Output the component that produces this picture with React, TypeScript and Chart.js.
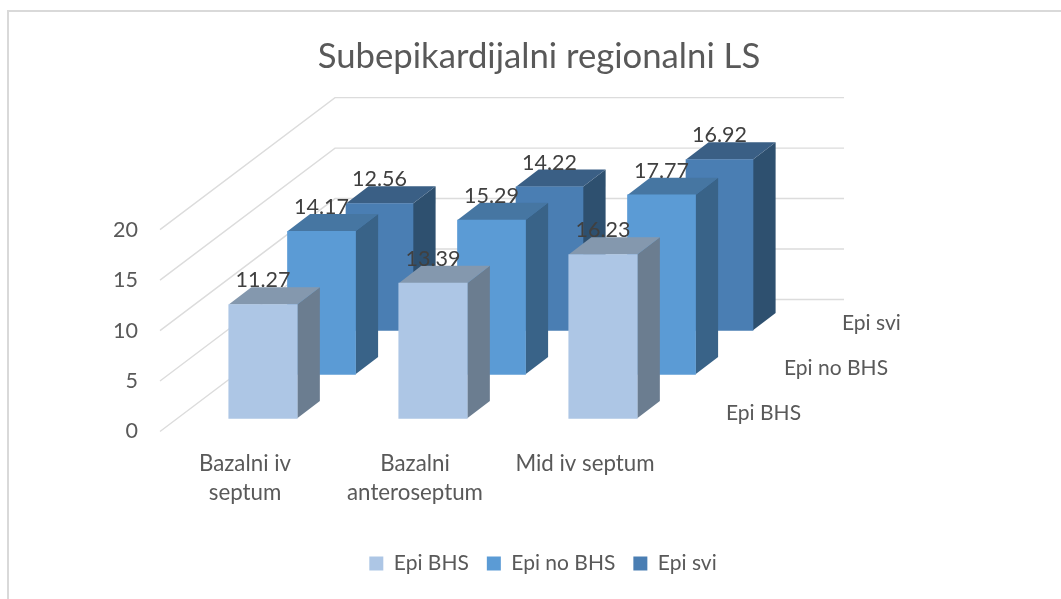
import React, { useEffect, useRef } from "react";
import { Chart, registerables } from "chart.js";

Chart.register(...registerables);

const categories = [["Bazalni iv", "septum"], ["Bazalni", "anteroseptum"], "Mid iv septum"];
const seriesNames = ["Epi BHS", "Epi no BHS", "Epi svi"];
const epiBhs = [11.27, 13.39, 16.23];
const epiNoBhs = [14.17, 15.29, 17.77];
const epiSvi = [12.56, 14.22, 16.92];
const yTicks = [0, 5, 10, 15, 20];

const FONT = "Lato, Carlito, Calibri, sans-serif";
const TEXT = "#595959";
const front = ["#adc6e5", "#5b9bd5", "#4a7eb3"];
const side = ["#6b7d90", "#396388", "#2e506f"];
const top = ["#8498ae", "#4676a2", "#3a5f85"];
const thickness = [68.5, 68, 67];

const offsets = [
  { dx: 18, dy: -13.2 },
  { dx: 76.5, dy: -57.2 },
  { dx: 134.5, dy: -101.2 },
];
const BAR_DX = 22.6;
const BAR_DY = -17.3;
const WALL_DX = 175;
const WALL_DY = -132;
const WALL_LEN = 509;

const poly = (ctx: CanvasRenderingContext2D, pts: number[][], fill: string) => {
  ctx.beginPath();
  pts.forEach((p, i) => (i ? ctx.lineTo(p[0], p[1]) : ctx.moveTo(p[0], p[1])));
  ctx.closePath();
  ctx.fillStyle = fill;
  ctx.fill();
};

const bars3d = {
  id: "bars3d",
  afterLayout(chart: any) {
    // legend sits slightly right of the title in the reference
    chart.legend.left += 4;
    chart.legend.right += 4;
  },
  beforeDatasetsDraw(chart: any) {
    const { ctx, scales } = chart;
    const x0 = scales.x.left;
    ctx.save();
    ctx.strokeStyle = "#dcdcdc";
    ctx.lineWidth = 1.4;
    yTicks.forEach((v) => {
      const y = scales.y.getPixelForValue(v);
      ctx.beginPath();
      ctx.moveTo(x0, y);
      ctx.lineTo(x0 + WALL_DX, y + WALL_DY);
      ctx.lineTo(x0 + WALL_DX + WALL_LEN, y + WALL_DY);
      ctx.stroke();
    });
    ctx.restore();
  },
  beforeDatasetDraw(chart: any, args: any) {
    const { ctx } = chart;
    const i = args.index;
    ctx.save();
    ctx.translate(offsets[i].dx, offsets[i].dy);
    args.meta.data.forEach((el: any) => {
      const r = el.x + el.width / 2;
      const l = el.x - el.width / 2;
      poly(ctx, [[r, el.y], [r + BAR_DX, el.y + BAR_DY], [r + BAR_DX, el.base + BAR_DY], [r, el.base]], side[i]);
      poly(ctx, [[l, el.y], [l + BAR_DX, el.y + BAR_DY], [r + BAR_DX, el.y + BAR_DY], [r, el.y]], top[i]);
    });
  },
  afterDatasetDraw(chart: any) {
    chart.ctx.restore();
  },
  afterDatasetsDraw(chart: any) {
    const { ctx, scales } = chart;
    ctx.save();
    ctx.textBaseline = "middle";
    ctx.font = `21.5px ${FONT}`;
    ctx.fillStyle = "#404040";
    ctx.textAlign = "center";
    chart.data.datasets.forEach((ds: any, i: number) => {
      chart.getDatasetMeta(i).data.forEach((el: any, j: number) => {
        ctx.fillText(ds.data[j].toFixed(2), el.x + offsets[i].dx, el.y + offsets[i].dy - 24);
      });
    });
    ctx.textAlign = "left";
    ctx.fillStyle = TEXT;
    ctx.font = `21px ${FONT}`;
    seriesNames.forEach((name, i) => {
      ctx.fillText(name, scales.x.right + 56 + 58 * i, scales.y.bottom - 18.5 - 45 * i);
    });
    ctx.restore();
  },
};

export default function App() {
  const ref = useRef<HTMLCanvasElement>(null);
  useEffect(() => {
    const chart = new Chart(ref.current as HTMLCanvasElement, {
      type: "bar",
      data: {
        labels: categories as any,
        datasets: [epiBhs, epiNoBhs, epiSvi].map((data, i) => ({
          label: seriesNames[i],
          data,
          backgroundColor: front[i],
          borderWidth: 0,
          barThickness: thickness[i],
          grouped: false,
          clip: false as any,
        })),
      },
      options: {
        responsive: false,
        animation: false,
        layout: { padding: { left: 17, right: 0, top: 0, bottom: 15 } },
        plugins: {
          tooltip: { enabled: false },
          title: {
            display: true,
            text: "Subepikardijalni regionalni LS",
            color: TEXT,
            font: { family: FONT, size: 34.7, weight: "normal" },
            padding: { top: 36, bottom: 152 },
          },
          legend: {
            position: "bottom",
            labels: {
              boxWidth: 14,
              boxHeight: 14,
              color: TEXT,
              padding: 18,
              font: { family: FONT, size: 21 },
            },
          },
        },
        scales: {
          x: {
            grid: { display: false },
            border: { display: false },
            ticks: {
              color: TEXT,
              padding: 10,
              maxRotation: 0,
              autoSkip: false,
              font: { family: FONT, size: 22.3, lineHeight: 1.29 },
            },
            afterFit: (s: any) => { s.height = 103.5; },
          },
          y: {
            min: 0,
            max: 20,
            grid: { display: false, drawTicks: false },
            border: { display: false },
            ticks: {
              stepSize: 5,
              color: TEXT,
              padding: 22,
              font: { family: FONT, size: 21.5 },
            },
            afterFit: (s: any) => { s.width = 143; },
          },
          y2: {
            position: "right",
            grid: { display: false, drawTicks: false },
            border: { display: false },
            ticks: { display: false },
            afterFit: (s: any) => { s.width = 391; },
          },
        },
      },
      plugins: [bars3d],
    } as any);
    return () => chart.destroy();
  }, []);
  return (
    <div style={{ position: "fixed", left: 0, top: 0, width: 1061, height: 599, background: "#fff", overflow: "hidden" }}>
      <div style={{ position: "absolute", left: 7, top: 10, width: 1100, height: 700, border: "2px solid #d9d9d9", boxSizing: "border-box" }} />
      <canvas ref={ref} width={1061} height={599} style={{ position: "absolute", left: 0, top: 0, display: "block" }} />
    </div>
  );
}
